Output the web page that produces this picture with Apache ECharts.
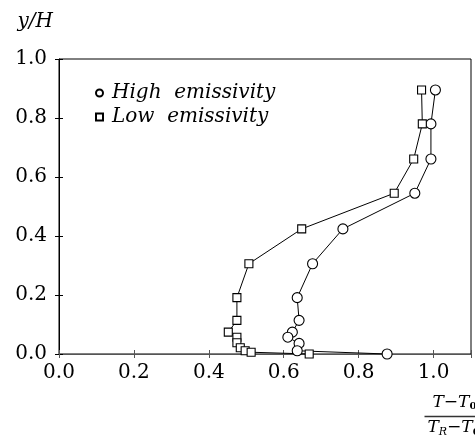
<!DOCTYPE html>
<html><head><meta charset="utf-8">
<script src="https://cdn.jsdelivr.net/npm/echarts@6/dist/echarts.min.js"></script>
<style>html,body{margin:0;padding:0;background:#fff}#c{width:475px;height:443px}</style>
</head><body><div id="c"></div>
<script>
const highX = [1.005, 0.993, 0.993, 0.950, 0.758, 0.677, 0.636, 0.641, 0.623, 0.611, 0.641, 0.636, 0.876];
const highY = [0.895, 0.780, 0.661, 0.545, 0.424, 0.306, 0.191, 0.114, 0.074, 0.057, 0.036, 0.011, 0.000];
const lowX = [0.968, 0.970, 0.947, 0.895, 0.648, 0.507, 0.475, 0.475, 0.452, 0.475, 0.475, 0.484, 0.497, 0.513, 0.668];
const lowY = [0.895, 0.780, 0.661, 0.545, 0.424, 0.306, 0.191, 0.114, 0.074, 0.057, 0.038, 0.021, 0.011, 0.006, 0.000];
const seriesNames = ['High  emissivity', 'Low  emissivity'];
const xTickMax = 1.0;

const zip = (a, b) => a.map((v, i) => [v, b[i]]);
const serif = "'DejaVu Serif', serif";
const fmt = v => v.toFixed(1);
const xfmt = v => (v > xTickMax + 1e-6 ? '' : v.toFixed(1));
const fr = {
  i: { fontFamily: serif, fontStyle: 'italic', fontSize: 17 },
  n: { fontFamily: serif, fontSize: 17 },
  si: { fontFamily: serif, fontStyle: 'italic', fontSize: 11, padding: [8, 0, 0, 0] },
  s: { fontFamily: serif, fontSize: 10, fontWeight: 'bold', padding: [8, 0, 0, 0] }
};

const chart = echarts.init(document.getElementById('c'));
chart.setOption({
  animation: false,
  backgroundColor: '#fff',
  grid: { left: 59, top: 59, right: 4, bottom: 89, show: true, borderColor: '#000', borderWidth: 1 },
  legend: {
    left: 90, top: 78, orient: 'vertical', itemWidth: 7, itemHeight: 7, itemGap: 4,
    textStyle: { fontFamily: serif, fontStyle: 'italic', fontSize: 20, color: '#000', padding: [0, 0, 0, 4] },
    data: [{ name: seriesNames[0], icon: 'circle' }, { name: seriesNames[1], icon: 'rect' }]
  },
  xAxis: [{
    type: 'value', min: 0, max: 1.1, interval: 0.2,
    axisLine: { lineStyle: { color: '#555', width: 1 } },
    axisTick: { length: 4, lineStyle: { color: '#555' } },
    axisLabel: { fontFamily: serif, fontSize: 20, color: '#000', margin: 9, formatter: xfmt, showMaxLabel: true },
    splitLine: { show: false }
  }, {
    type: 'value', min: 0, max: 1.1, interval: 0.2, position: 'bottom',
    axisLine: { show: false },
    axisTick: { inside: true, length: 4, lineStyle: { color: '#555' } },
    axisLabel: { show: false }, splitLine: { show: false }
  }],
  yAxis: [{
    type: 'value', min: 0, max: 1.0, interval: 0.2,
    name: 'y/H', nameLocation: 'end', nameGap: 27,
    nameTextStyle: { fontFamily: serif, fontStyle: 'italic', fontSize: 20, color: '#000', align: 'right', padding: [0, 6, 0, 0] },
    axisLine: { lineStyle: { color: '#000', width: 1 } },
    axisTick: { length: 4, lineStyle: { color: '#000' } },
    axisLabel: { fontFamily: serif, fontSize: 20, color: '#000', margin: 12, formatter: fmt },
    splitLine: { show: false }
  }, {
    type: 'value', min: 0, max: 1.0, interval: 0.2, position: 'left',
    axisLine: { show: false },
    axisTick: { inside: true, length: 4, lineStyle: { color: '#000' } },
    axisLabel: { show: false }, splitLine: { show: false }
  }],
  series: [{
    name: seriesNames[0], type: 'line', data: zip(highX, highY), clip: false,
    symbol: 'circle', symbolSize: 10,
    lineStyle: { color: '#000', width: 1 },
    itemStyle: { color: '#fff', borderColor: '#000', borderWidth: 1.1 }
  }, {
    name: seriesNames[1], type: 'line', data: zip(lowX, lowY), clip: false,
    symbol: 'rect', symbolSize: 8,
    lineStyle: { color: '#000', width: 1 },
    itemStyle: { color: '#fff', borderColor: '#000', borderWidth: 1.1 }
  }],
  graphic: [{
    type: 'group', left: 422, top: 394,
    children: [
      { type: 'text', x: 8, y: 0, style: { text: '{i|T}{n|−}{i|T}{s|0}', fill: '#000', rich: fr } },
      { type: 'line', shape: { x1: 0, y1: 23, x2: 70, y2: 23 }, style: { stroke: '#333', lineWidth: 1.5 } },
      { type: 'text', x: 3, y: 25, style: { text: '{i|T}{si|R}{n|−}{i|T}{s|0}', fill: '#000', rich: fr } }
    ]
  }]
});
</script></body></html>
